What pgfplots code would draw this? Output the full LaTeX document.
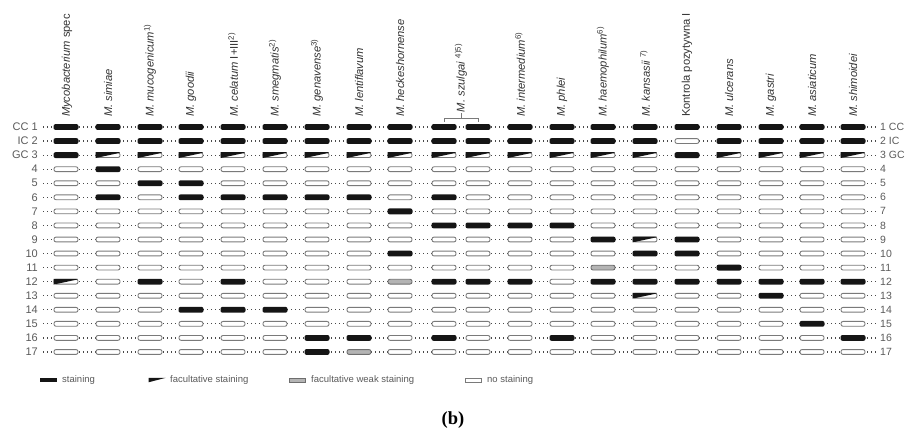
\documentclass[border=0pt]{standalone}
\usepackage{pgfplots}
\pgfplotsset{compat=1.18}
\usepackage{pgfplotstable}
\usepackage{fontspec}
\setmainfont{Liberation Sans}
\newfontfamily\serifb{Liberation Serif}
\definecolor{stripblack}{HTML}{151515}
\definecolor{stripedge}{HTML}{7A7A7A}
\definecolor{weakfill}{HTML}{B4B4B4}
\definecolor{weakedge}{HTML}{6E6E6E}
\definecolor{labelgray}{HTML}{5A5A5A}
\definecolor{textdark}{HTML}{333333}
\definecolor{dotgray}{HTML}{4A4A4A}

\tikzset{
  colnode/.style={rotate=90, anchor=west, inner sep=0pt, text=textdark,
    font=\fontsize{11.2}{12}\selectfont},
  rowL/.style={anchor=east, inner sep=0pt, text=labelgray, font=\fontsize{11}{12}\selectfont},
  rowR/.style={anchor=west, inner sep=0pt, text=labelgray, font=\fontsize{10.5}{12}\selectfont},
  legtext/.style={anchor=west, inner sep=0pt, text=labelgray, font=\fontsize{9.5}{11}\selectfont},
}

\newcommand{\strippath}[2]{%
  \pgfpathmoveto{\pgfpoint{0pt}{-#2}}%
  \pgfpathlineto{\pgfpoint{#1}{-#2}}%
  \pgfpathlineto{\pgfpoint{#1}{#2}}%
  \pgfpathlineto{\pgfpoint{-#1}{#2}}%
  \pgfpathlineto{\pgfpoint{-#1}{-#2}}%
  \pgfpathclose}

\pgfdeclareplotmark{stripS}{%
  \pgfsetcornersarced{\pgfpoint{2pt}{2pt}}%
  \pgfsetfillcolor{stripblack}%
  \strippath{12.5pt}{2.9pt}%
  \pgfusepath{fill}}
\pgfdeclareplotmark{stripN}{%
  \pgfsetlinewidth{0.9pt}%
  \pgfsetcornersarced{\pgfpoint{2pt}{2pt}}%
  \pgfsetfillcolor{white}\pgfsetstrokecolor{stripedge}%
  \strippath{12pt}{2.4pt}%
  \pgfusepath{fill,stroke}}
\pgfdeclareplotmark{stripW}{%
  \pgfsetlinewidth{0.9pt}%
  \pgfsetcornersarced{\pgfpoint{2pt}{2pt}}%
  \pgfsetfillcolor{weakfill}\pgfsetstrokecolor{weakedge}%
  \strippath{12pt}{2.4pt}%
  \pgfusepath{fill,stroke}}
\pgfdeclareplotmark{stripF}{%
  \pgfsetlinewidth{0.9pt}%
  \pgfsetcornersarced{\pgfpoint{2pt}{2pt}}%
  \pgfsetfillcolor{white}\pgfsetstrokecolor{stripedge}%
  \strippath{12pt}{2.4pt}%
  \pgfusepath{fill,stroke}%
  \pgfsetcornersarced{\pgfpointorigin}%
  \pgfsetfillcolor{stripblack}%
  \pgfpathmoveto{\pgfpoint{-12.4pt}{2.9pt}}%
  \pgfpathlineto{\pgfpoint{11.5pt}{2.9pt}}%
  \pgfpathlineto{\pgfpoint{11.5pt}{2.2pt}}%
  \pgfpathlineto{\pgfpoint{-12.4pt}{-2.9pt}}%
  \pgfpathclose
  \pgfusepath{fill}}

\pgfdeclareplotmark{legS}{%
  \pgfsetfillcolor{stripblack}%
  \pgfpathrectangle{\pgfpoint{-8.5pt}{-2.2pt}}{\pgfpoint{17pt}{4.4pt}}%
  \pgfusepath{fill}}
\pgfdeclareplotmark{legF}{%
  \pgfsetfillcolor{stripblack}%
  \pgfpathmoveto{\pgfpoint{-8.5pt}{2.2pt}}%
  \pgfpathlineto{\pgfpoint{8.5pt}{2.2pt}}%
  \pgfpathlineto{\pgfpoint{-8.5pt}{-2.2pt}}%
  \pgfpathclose
  \pgfusepath{fill}}
\pgfdeclareplotmark{legW}{%
  \pgfsetlinewidth{0.6pt}%
  \pgfsetfillcolor{weakfill}\pgfsetstrokecolor{weakedge}%
  \pgfpathrectangle{\pgfpoint{-8.2pt}{-1.9pt}}{\pgfpoint{16.4pt}{3.8pt}}%
  \pgfusepath{fill,stroke}}
\pgfdeclareplotmark{legN}{%
  \pgfsetlinewidth{0.6pt}%
  \pgfsetfillcolor{white}\pgfsetstrokecolor{stripedge}%
  \pgfpathrectangle{\pgfpoint{-8.2pt}{-1.9pt}}{\pgfpoint{16.4pt}{3.8pt}}%
  \pgfusepath{fill,stroke}}

% strip states: S staining, F facultative, W facultative weak, N none
\pgfplotstableread{
x   r1 r2 r3 r4 r5 r6 r7 r8 r9 r10 r11 r12 r13 r14 r15 r16 r17
66  S  S  S  N  N  N  N  N  N  N   N   F   N   N   N   N   N
108 S  S  F  S  N  S  N  N  N  N   N   N   N   N   N   N   N
150 S  S  F  N  S  N  N  N  N  N   N   S   N   N   N   N   N
191 S  S  F  N  S  S  N  N  N  N   N   N   N   S   N   N   N
233 S  S  F  N  N  S  N  N  N  N   N   S   N   S   N   N   N
275 S  S  F  N  N  S  N  N  N  N   N   N   N   S   N   N   N
317 S  S  F  N  N  S  N  N  N  N   N   N   N   N   N   S   S
359 S  S  F  N  N  S  N  N  N  N   N   N   N   N   N   S   W
400 S  S  F  N  N  N  S  N  N  S   N   W   N   N   N   N   N
444 S  S  F  N  N  S  N  S  N  N   N   S   N   N   N   S   N
478 S  S  F  N  N  N  N  S  N  N   N   S   N   N   N   N   N
520 S  S  F  N  N  N  N  S  N  N   N   S   N   N   N   N   N
562 S  S  F  N  N  N  N  S  N  N   N   N   N   N   N   S   N
603 S  S  F  N  N  N  N  N  S  N   W   S   N   N   N   N   N
645 S  S  F  N  N  N  N  N  F  S   N   S   F   N   N   N   N
687 S  N  S  N  N  N  N  N  S  S   N   S   N   N   N   N   N
729 S  S  F  N  N  N  N  N  N  N   S   S   N   N   N   N   N
771 S  S  F  N  N  N  N  N  N  N   N   S   S   N   N   N   N
812 S  S  F  N  N  N  N  N  N  N   N   S   N   N   S   N   N
853 S  S  F  N  N  N  N  N  N  N   N   S   N   N   N   S   N
}\grid

\begin{document}
\begin{tikzpicture}
\begin{axis}[
  at={(0pt,0pt)}, anchor=south west,
  width=906pt, height=437pt, scale only axis,
  xmin=0, xmax=906, ymin=-8.033, ymax=23.048, y dir=reverse,
  hide axis, clip=false,
]
% dotted connecting lines
\pgfplotsinvokeforeach{1,...,17}{
  \addplot[draw=dotgray, line width=1.2pt, dash pattern=on 1.2pt off 2.8pt, forget plot]
    coordinates {(43,#1) (877,#1)};
}
% strips
\pgfplotsinvokeforeach{1,...,17}{
  \addplot[scatter, only marks, scatter src=explicit symbolic,
    scatter/classes={S={mark=stripS}, F={mark=stripF}, W={mark=stripW}, N={mark=stripN}}]
    table[x=x, y expr=#1, meta=r#1] {\grid};
}
% bracket for M. szulgai
\addplot[draw=stripedge, line width=0.7pt] coordinates {(444,0.62) (444,0.36) (478,0.36) (478,0.62)};
\addplot[draw=stripedge, line width=0.7pt] coordinates {(461,0.36) (461,0.02)};

% column labels
\node[colnode] at (axis cs:67,0.3)  {\textit{Mycobacterium} spec};
\node[colnode] at (axis cs:108,0.3) {\textit{M. simiae}};
\node[colnode] at (axis cs:150,0.3) {\textit{M. mucogenicum}\textsuperscript{1)}};
\node[colnode] at (axis cs:191,0.3) {\textit{M. goodii}};
\node[colnode] at (axis cs:233,0.3) {\textit{M. celatum} I+III\textsuperscript{2)}};
\node[colnode] at (axis cs:275,0.3) {\textit{M. smegmatis}\textsuperscript{2)}};
\node[colnode] at (axis cs:317,0.3) {\textit{M. genavense}\textsuperscript{3)}};
\node[colnode] at (axis cs:359,0.3) {\textit{M. lentiflavum}};
\node[colnode] at (axis cs:400,0.3) {\textit{M. heckeshornense}};
\node[colnode] at (axis cs:461,-0.05) {\textit{M. szulgai} \textsuperscript{4)5)}};
\node[colnode] at (axis cs:520,0.3) {\textit{M. intermedium}\textsuperscript{6)}};
\node[colnode] at (axis cs:562,0.3) {\textit{M. phlei}};
\node[colnode] at (axis cs:603,0.3) {\textit{M. haemophilum}\textsuperscript{6)}};
\node[colnode] at (axis cs:645,0.3) {\textit{M. kansasii} \textsuperscript{7)}};
\node[colnode] at (axis cs:687,0.3) {Kontrola pozytywna I};
\node[colnode] at (axis cs:729,0.3) {\textit{M. ulcerans}};
\node[colnode] at (axis cs:771,0.3) {\textit{M. gastri}};
\node[colnode] at (axis cs:812,0.3) {\textit{M. asiaticum}};
\node[colnode] at (axis cs:853,0.3) {\textit{M. shimoidei}};

% row labels
\node[rowL] at (axis cs:38,1) {CC 1};
\node[rowL] at (axis cs:38,2) {IC 2};
\node[rowL] at (axis cs:38,3) {GC 3};
\node[rowR] at (axis cs:880,1) {1 CC};
\node[rowR] at (axis cs:880,2) {2 IC};
\node[rowR] at (axis cs:880,3) {3 GC};
\pgfplotsinvokeforeach{4,...,17}{
  \node[rowL] at (axis cs:38,#1) {#1};
  \node[rowR] at (axis cs:880,#1) {#1};
}

% legend
\addplot[only marks, mark=legS] coordinates {(48,19)};
\addplot[only marks, mark=legF] coordinates {(157,19)};
\addplot[only marks, mark=legW] coordinates {(297,19)};
\addplot[only marks, mark=legN] coordinates {(473,19)};
\node[legtext] at (axis cs:62,19)  {staining};
\node[legtext] at (axis cs:170,19) {facultative staining};
\node[legtext] at (axis cs:311,19) {facultative weak staining};
\node[legtext] at (axis cs:487,19) {no staining};

\node[font=\serifb\bfseries\fontsize{18.5}{20}\selectfont] at (axis cs:453,21.85) {(b)};
\end{axis}
\pgfresetboundingbox
\path[use as bounding box] (0pt,0pt) rectangle (906pt,437pt);
\end{tikzpicture}
\end{document}
